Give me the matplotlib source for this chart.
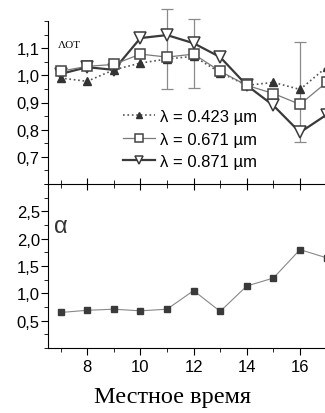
import numpy as np
import matplotlib
matplotlib.use('Agg')
import matplotlib.pyplot as plt
from matplotlib.ticker import MultipleLocator, FuncFormatter

hours = [7, 8, 9, 10, 11, 12, 13, 14, 15, 16, 17]

aot_423 = [0.99, 0.978, 1.02, 1.045, 1.06, 1.07, 1.01, 0.963, 0.974, 0.948, 1.03]
aot_671 = [1.015, 1.033, 1.04, 1.078, 1.067, 1.078, 1.015, 0.963, 0.933, 0.893, 0.974]
aot_871 = [1.005, 1.03, 1.02, 1.137, 1.148, 1.118, 1.067, 0.963, 0.889, 0.79, 0.855]

# error bars (low / high) at a few hours
err_hours = [11, 12, 16]
err_low = [0.948, 0.952, 0.756]
err_high = [1.244, 1.207, 1.122]

alpha = [0.65, 0.69, 0.71, 0.68, 0.71, 1.05, 0.67, 1.135, 1.28, 1.80, 1.65]

labels = ["λ = 0.423 µm", "λ = 0.671 µm", "λ = 0.871 µm"]

plt.rcParams['font.family'] = ['Liberation Sans', 'DejaVu Sans']
comma = FuncFormatter(lambda v, p: f"{v:.1f}".replace('.', ','))

fig = plt.figure(figsize=(3.25, 4.14), dpi=100)
ax2 = fig.add_axes([0.148, 0.157, 0.852, 0.396])
ax1 = fig.add_axes([0.148, 0.553, 0.852, 0.394])
ax1.patch.set_visible(False)

# top panel
mid = [(lo + hi) / 2 for lo, hi in zip(err_low, err_high)]
half = [(hi - lo) / 2 for lo, hi in zip(err_low, err_high)]
ax1.errorbar(err_hours, mid, yerr=half, fmt='none', ecolor='#8a8a8a',
             elinewidth=0.9, capsize=4, capthick=0.9, clip_on=False, zorder=1)
ax1.plot(hours, aot_423, ls=':', lw=1.2, color='#555555', marker='^', ms=6,
         mfc='#333333', mec='#333333', label=labels[0], zorder=3)
ax1.plot(hours, aot_671, ls='-', lw=0.9, color='#7a7a7a', marker='s', ms=7,
         mfc='white', mec='#444444', mew=1.1, label=labels[1], zorder=4)
ax1.plot(hours, aot_871, ls='-', lw=1.6, color='#3a3a3a', marker='v', ms=8,
         mfc='white', mec='#3a3a3a', mew=1.1, label=labels[2], zorder=2)

ax1.set_xlim(6.53, 16.94)
ax1.set_ylim(0.6, 1.2)
ax1.yaxis.set_minor_locator(MultipleLocator(0.05))
ax1.yaxis.set_major_formatter(comma)
ax1.set_yticks([0.7, 0.8, 0.9, 1.0, 1.1])
ax1.xaxis.set_major_locator(MultipleLocator(2))
ax1.xaxis.set_minor_locator(MultipleLocator(1))
ax1.tick_params(axis='x', which='both', direction='inout', labelbottom=False)
ax1.tick_params(axis='x', which='major', length=9)
ax1.tick_params(axis='x', which='minor', length=6)
ax1.tick_params(axis='y', which='major', length=5, labelsize=12, pad=1)
ax1.tick_params(axis='y', which='minor', length=3)
for s in ['top', 'right']:
    ax1.spines[s].set_visible(False)
ax1.text(6.88, 1.115, "ΛOT", family='Liberation Serif', fontsize=8, va='center')
ax1.legend(loc='upper left', bbox_to_anchor=(0.24, 0.51), frameon=False,
           fontsize=12, handlelength=1.9, handletextpad=0.35, labelspacing=0.45,
           borderpad=0.0, markerscale=0.8)

# bottom panel
ax2.plot(hours, alpha, ls='-', lw=0.8, color='#888888', marker='s', ms=5,
         mfc='#3a3a3a', mec='#3a3a3a')
ax2.set_xlim(6.53, 16.94)
ax2.set_ylim(0, 3.0)
ax2.set_yticks([0.5, 1.0, 1.5, 2.0, 2.5])
ax2.yaxis.set_minor_locator(MultipleLocator(0.25))
ax2.yaxis.set_major_formatter(comma)
ax2.set_xticks([8, 10, 12, 14, 16])
ax2.xaxis.set_minor_locator(MultipleLocator(1))
ax2.tick_params(axis='both', which='major', length=5, labelsize=12, pad=1)
ax2.tick_params(axis='x', which='major', pad=3)
ax2.tick_params(axis='both', which='minor', length=3)
for s in ['top', 'right']:
    ax2.spines[s].set_visible(False)
ax2.text(6.75, 2.24, "α", fontsize=17, color='#333333', va='center')

fig.text(0.532, 0.04, "Местное время", family='Liberation Serif', fontsize=17.5,
         ha='center', va='center')

fig.savefig("out.png", dpi=100)
